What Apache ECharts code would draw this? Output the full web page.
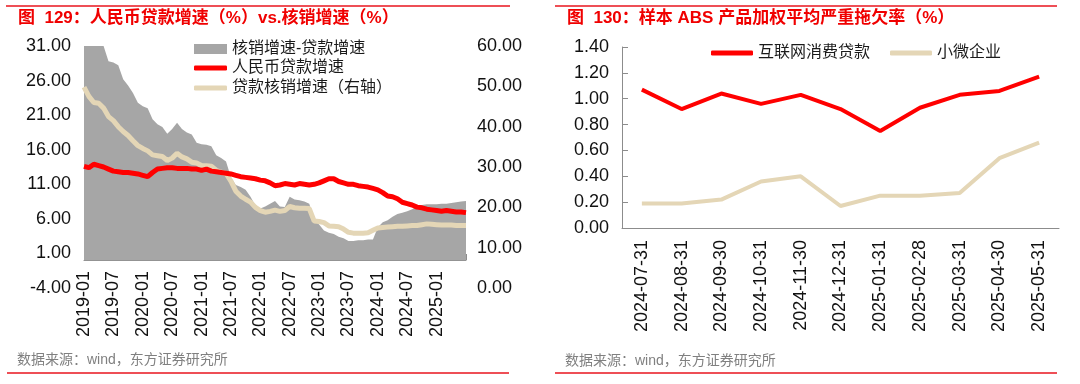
<!DOCTYPE html>
<html>
<head>
<meta charset="utf-8">
<script src="https://cdn.jsdelivr.net/npm/echarts@6/dist/echarts.min.js"></script>
<style>
html,body{margin:0;padding:0;background:#fff;}
#c{width:1080px;height:384px;}
</style>
</head>
<body>
<div id="c"></div>
<script>
// ---- Left chart data ----
const leftMonths = (function(){
  const out = [];
  for (let y = 2019; y <= 2025; y++) {
    for (let m = 1; m <= 12; m++) {
      if (y === 2025 && m > 7) break;
      out.push(y + '-' + (m < 10 ? '0' + m : m));
    }
  }
  return out;
})();
const diffSeries = [36,34,32,32,31,28.8,28.6,28.2,26.2,25.3,24.2,22.8,22.3,22.0,20.4,19.7,19.3,18.3,19.0,19.9,
  19.0,18.5,18.2,17.0,16.8,16.7,16.5,15.2,14.8,14.3,12.0,10.9,10.6,10.2,9.2,7.9,7.5,7.8,8.2,8.6,
  7.8,7.7,9.2,8.8,8.7,8.5,8.2,5.8,5.2,4.3,4.0,3.8,3.4,3.2,2.8,2.8,2.9,2.9,3.0,3.0,
  4.8,5.5,5.8,6.3,6.7,6.9,7.1,7.4,7.8,8.0,8.1,8.1,8.1,8.2,8.2,8.3,8.4,8.5,8.6];
const loanGrowth = [13.6,13.4,13.9,13.7,13.5,13.2,12.9,12.8,12.7,12.7,12.6,12.5,12.3,12.1,12.7,13.2,13.3,13.4,13.4,13.3,
  13.3,13.3,13.2,13.2,13.0,13.2,12.9,12.8,12.7,12.6,12.5,12.3,12.1,12.0,11.9,11.8,11.6,11.5,11.2,10.8,
  10.9,11.1,11.0,10.9,11.1,11.0,10.9,11.0,11.2,11.5,11.8,11.8,11.4,11.2,11.0,11.0,10.8,10.7,10.6,10.4,
  10.2,9.8,9.3,9.2,8.9,8.4,8.2,8.0,7.7,7.6,7.4,7.3,7.2,7.1,7.2,7.1,7.0,7.0,6.9];
const writeOffGrowth = [49.8,47.5,46.0,45.8,44.6,42.5,41.5,40.0,38.8,37.8,36.5,35.3,34.6,34.0,33.0,32.8,32.6,31.6,32.2,33.4,
  32.5,32.0,31.2,31.0,30.4,30.3,30.2,29.2,28.7,28.4,26.5,24.0,22.8,22.0,21.3,20.0,19.2,18.8,19.0,19.3,
  19.0,19.2,20.2,19.9,19.8,19.8,19.7,16.6,16.5,16.2,15.4,15.3,15.2,14.6,13.8,13.6,13.6,13.6,13.7,14.3,
  14.9,15.0,15.1,15.2,15.3,15.3,15.4,15.5,15.5,15.7,15.9,15.8,15.7,15.6,15.6,15.6,15.5,15.5,15.5];

// ---- Right chart data ----
const absDates = ['2024-07-31','2024-08-31','2024-09-30','2024-10-31','2024-11-30','2024-12-31','2025-01-31','2025-02-28','2025-03-31','2025-04-30','2025-05-31'];
const internetConsumer = [1.07,0.92,1.04,0.96,1.03,0.92,0.75,0.93,1.03,1.06,1.17];
const smallMicro = [0.19,0.19,0.22,0.36,0.40,0.17,0.25,0.25,0.27,0.54,0.66];

const FONT = '"Liberation Sans", Arial, "Noto Sans CJK SC", sans-serif';
const RED = '#FF0000';
const BEIGE = '#E4D6B6';
const GRAY = '#A6A6A6';
const AX = '#8C8C8C';

const chart = echarts.init(document.getElementById('c'), null, {renderer: 'canvas'});
const fmt2 = v => Number(v).toFixed(2);
const legendText = {fontSize: 16, color: '#1a1a1a', fontFamily: FONT, lineHeight: 20};

chart.setOption({
  animation: false,
  backgroundColor: '#fff',
  textStyle: {fontFamily: FONT},
  graphic: [
    {type: 'line', shape: {x1: 6, y1: 6, x2: 510, y2: 6}, style: {stroke: '#E8141E', lineWidth: 1.5}},
    {type: 'line', shape: {x1: 555, y1: 6, x2: 1057, y2: 6}, style: {stroke: '#E8141E', lineWidth: 1.5}},
    {type: 'line', shape: {x1: 7, y1: 373, x2: 509, y2: 373}, style: {stroke: '#E8141E', lineWidth: 1.5}},
    {type: 'line', shape: {x1: 555, y1: 373, x2: 1057, y2: 373}, style: {stroke: '#E8141E', lineWidth: 1.5}},
    {type: 'text', left: 18, top: 10, style: {text: '图  129：人民币贷款增速（%）vs.核销增速（%）', fill: '#F00000', font: 'bold 17px ' + FONT}},
    {type: 'text', left: 567, top: 10, style: {text: '图  130：样本 ABS 产品加权平均严重拖欠率（%）', fill: '#F00000', font: 'bold 17px ' + FONT}},
    {type: 'text', left: 17, top: 353, style: {text: '数据来源：wind，东方证券研究所', fill: '#808080', font: '14px ' + FONT}},
    {type: 'text', left: 565, top: 354, style: {text: '数据来源：wind，东方证券研究所', fill: '#808080', font: '14px ' + FONT}}
  ],
  legend: [
    {
      orient: 'vertical', left: 189, top: 34, itemWidth: 33, itemHeight: 10, itemGap: 0,
      textStyle: legendText, icon: 'rect',
      data: ['核销增速-贷款增速']
    },
    {
      orient: 'vertical', left: 189, top: 53, itemWidth: 33, itemHeight: 5, itemGap: 0,
      textStyle: legendText, icon: 'roundRect',
      data: ['人民币贷款增速', '贷款核销增速（右轴）']
    },
    {
      orient: 'horizontal', left: 706, top: 38, itemWidth: 42, itemHeight: 5, itemGap: 20,
      textStyle: legendText, icon: 'roundRect',
      data: ['互联网消费贷款', '小微企业']
    }
  ],
  grid: [
    {left: 84, top: 46, width: 382, height: 242, containLabel: false},
    {left: 622, top: 47, width: 437, height: 181, containLabel: false}
  ],
  xAxis: [
    {
      type: 'category', gridIndex: 0, data: leftMonths, boundaryGap: false,
      offset: -28,
      axisLine: {onZero: false, lineStyle: {color: AX, width: 1}},
      axisTick: {inside: true, length: 6, interval: (i) => i % 6 === 0, lineStyle: {color: AX}},
      axisLabel: {rotate: 90, margin: 11, fontSize: 18, color: '#111', fontFamily: FONT,
        interval: (i) => i % 6 === 0 && i < 78},
      splitLine: {show: false}
    },
    {
      type: 'category', gridIndex: 1, data: absDates, boundaryGap: true,
      axisLine: {lineStyle: {color: AX, width: 1}},
      axisTick: {inside: true, length: 7, lineStyle: {color: AX}},
      axisLabel: {rotate: 90, margin: 12, fontSize: 18, color: '#111', fontFamily: FONT, interval: 0},
      splitLine: {show: false}
    }
  ],
  yAxis: [
    {
      type: 'value', gridIndex: 0, position: 'left', min: -4, max: 31, interval: 5,
      axisLine: {show: false},
      axisTick: {show: false},
      axisLabel: {formatter: fmt2, fontSize: 18, color: '#111', margin: 13, fontFamily: FONT},
      splitLine: {show: false}
    },
    {
      type: 'value', gridIndex: 0, position: 'right', min: 0, max: 60, interval: 10,
      axisLine: {show: false}, axisTick: {show: false},
      axisLabel: {formatter: fmt2, fontSize: 18, color: '#111', margin: 11, fontFamily: FONT},
      splitLine: {show: false}
    },
    {
      type: 'value', gridIndex: 1, min: 0, max: 1.4, interval: 0.2,
      axisLine: {show: true, lineStyle: {color: AX}},
      axisTick: {show: true, inside: true, length: 6, lineStyle: {color: AX}},
      axisLabel: {formatter: fmt2, fontSize: 18, color: '#111', margin: 13, fontFamily: FONT},
      splitLine: {show: false}
    }
  ],
  series: [
    {
      name: '核销增速-贷款增速', type: 'line', xAxisIndex: 0, yAxisIndex: 0, data: diffSeries,
      symbol: 'none', lineStyle: {width: 0, color: GRAY}, itemStyle: {color: GRAY},
      areaStyle: {color: GRAY, opacity: 1}, z: 1
    },
    {
      name: '人民币贷款增速', type: 'line', xAxisIndex: 0, yAxisIndex: 0, data: loanGrowth,
      symbol: 'none', lineStyle: {width: 5, color: RED}, itemStyle: {color: RED}, z: 3
    },
    {
      name: '贷款核销增速（右轴）', type: 'line', xAxisIndex: 0, yAxisIndex: 1, data: writeOffGrowth,
      symbol: 'none', lineStyle: {width: 5, color: BEIGE}, itemStyle: {color: BEIGE}, z: 2
    },
    {
      name: '互联网消费贷款', type: 'line', xAxisIndex: 1, yAxisIndex: 2, data: internetConsumer,
      symbol: 'none', lineStyle: {width: 4, color: RED}, itemStyle: {color: RED}
    },
    {
      name: '小微企业', type: 'line', xAxisIndex: 1, yAxisIndex: 2, data: smallMicro,
      symbol: 'none', lineStyle: {width: 4, color: BEIGE}, itemStyle: {color: BEIGE}
    }
  ]
});
</script>
</body>
</html>
